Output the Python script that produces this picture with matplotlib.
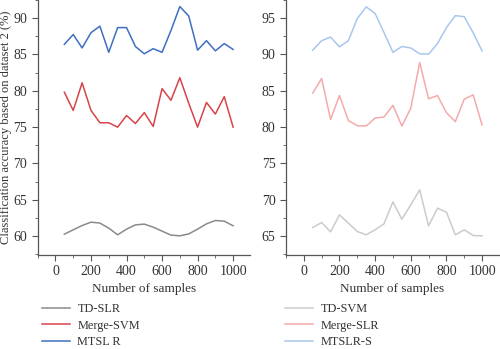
import numpy as np
import matplotlib.pyplot as plt
from matplotlib.ticker import MultipleLocator

# sample counts shared by every curve
samples = [50, 100, 150, 200, 250, 300, 350, 400, 450, 500,
           550, 600, 650, 700, 750, 800, 850, 900, 950, 1000]

# left panel
td_slr = [60.27, 60.87, 61.46, 61.92, 61.8, 61.1, 60.18, 60.96, 61.55, 61.65,
          61.24, 60.69, 60.14, 60.04, 60.3, 60.96, 61.69, 62.15, 62.06, 61.42]
merge_svm = [79.8, 77.3, 81.1, 77.3, 75.6, 75.6, 75.0, 76.6, 75.5, 77.0,
             75.1, 80.3, 78.7, 81.8, 78.3, 75.0, 78.4, 76.8, 79.2, 75.0]
mtsl_r = [86.4, 87.75, 85.9, 88.0, 88.9, 85.3, 88.7, 88.7, 86.1, 85.1,
          85.8, 85.3, 88.3, 91.6, 90.3, 85.6, 86.9, 85.5, 86.5, 85.7]

# right panel
td_svm = [66.19, 66.87, 65.59, 67.93, 66.78, 65.64, 65.18, 65.87, 66.69, 69.72,
          67.33, 69.3, 71.37, 66.42, 68.85, 68.3, 65.18, 65.87, 65.08, 65.04]
merge_slr = [84.7, 86.7, 81.05, 84.35, 80.9, 80.2, 80.15, 81.25, 81.4, 83.0,
             80.15, 82.6, 88.9, 83.9, 84.35, 82.0, 80.75, 83.85, 84.45, 80.3]
mtslr_s = [90.6, 91.9, 92.4, 91.05, 91.9, 94.95, 96.55, 95.65, 93.0, 90.3,
           91.1, 90.9, 90.1, 90.05, 91.5, 93.7, 95.35, 95.2, 93.0, 90.5]

left_labels = ["TD-SLR", "Merge-SVM", "MTSL R"]
right_labels = ["TD-SVM", "Merge-SLR", "MTSLR-S"]
left_colors = ["#8a8a8a", "#d8434a", "#3f6fc0"]
right_colors = ["#cbcbcb", "#f5aaaa", "#a9c7ee"]

plt.rcParams["font.family"] = "Liberation Serif"
plt.rcParams["font.size"] = 10
txt = "#333333"
spine_c = "#555555"

fig = plt.figure(figsize=(5, 3.49), dpi=100)
ax1 = fig.add_axes([0.0754, 0.2693, 0.4246, 0.7307])
ax2 = fig.add_axes([0.572, 0.2693, 0.426, 0.7307])


def style(ax, ylim):
    ax.set_xlim(-100, 1095)
    ax.set_ylim(*ylim)
    ax.spines["top"].set_visible(False)
    ax.spines["right"].set_visible(False)
    for s in ("left", "bottom"):
        ax.spines[s].set_color(spine_c)
        ax.spines[s].set_linewidth(0.9)
    ax.xaxis.set_major_locator(MultipleLocator(200))
    ax.xaxis.set_minor_locator(MultipleLocator(100))
    ax.yaxis.set_major_locator(MultipleLocator(5))
    ax.yaxis.set_minor_locator(MultipleLocator(2.5))
    ax.tick_params(which="major", length=4, color=spine_c, labelcolor=txt, labelsize=10)
    ax.tick_params(which="minor", length=2, color=spine_c)
    ax.set_xlabel("Number of samples", color=txt, fontsize=9.5, labelpad=3)


for vals, c in zip([td_slr, merge_svm, mtsl_r], left_colors):
    ax1.plot(samples, vals, color=c, lw=1.1)
for vals, c in zip([td_svm, merge_slr, mtslr_s], right_colors):
    ax2.plot(samples, vals, color=c, lw=1.1)

style(ax1, (57.4, 92.5))
style(ax2, (62.4, 97.5))
ax1.set_ylabel("Classification accuracy based on dataset 2 (%)", color=txt,
               fontsize=9.0, labelpad=1)

h1 = ax1.get_lines()
h2 = ax2.get_lines()
legend_kw = dict(loc="upper left", frameon=False, handlelength=2.3,
                 handletextpad=0.6, labelspacing=0.35, fontsize=8.8,
                 labelcolor=txt, borderaxespad=0)
fig.legend(h1, left_labels, bbox_to_anchor=(0.074, 0.145), **legend_kw)
fig.legend(h2, right_labels, bbox_to_anchor=(0.56, 0.145), **legend_kw)

fig.savefig("out.png", dpi=100)
